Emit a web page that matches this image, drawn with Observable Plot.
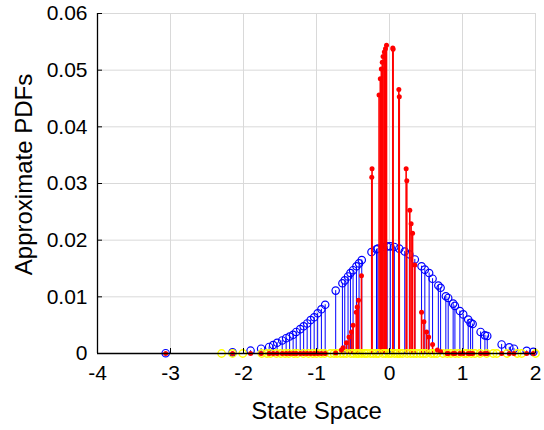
<!DOCTYPE html>
<html><head><meta charset="utf-8">
<script src="https://cdn.jsdelivr.net/npm/d3@7"></script>
<script src="https://cdn.jsdelivr.net/npm/@observablehq/plot@0.6"></script>
<style>body{margin:0;background:#fff} #chart svg{display:block}</style>
</head><body><div id="chart"></div>
<script>
const xTicks = [-4, -3, -2, -1, 0, 1, 2];
const yTicks = [0, 0.01, 0.02, 0.03, 0.04, 0.05, 0.06];
const xLabel = "State Space";
const yLabel = "Approximate PDFs";

// blue: open circles with stems
const blueX = [-3.066,-2.150,-1.903,-1.759,-1.649,-1.594,-1.539,-1.470,-1.416,-1.368,-1.320,-1.278,-1.223,-1.176,-1.128,-1.080,-1.032,-0.984,-0.933,-0.881,-0.737,-0.645,-0.613,-0.568,-0.535,-0.499,-0.453,-0.417,-0.380,-0.247,-0.178,-0.160,-0.092,-0.033,0.011,0.066,0.134,0.209,0.272,0.347,0.439,0.484,0.543,0.590,0.669,0.700,0.772,0.804,0.872,0.896,0.964,1.010,1.078,1.111,1.139,1.248,1.307,1.339,1.536,1.641,1.705,1.879,1.970];
const blueY = [0.00005,0.0002,0.0005,0.00085,0.00116,0.0015,0.0019,0.0023,0.0027,0.0030,0.0033,0.0038,0.0043,0.0048,0.0053,0.0059,0.0064,0.0071,0.0078,0.0086,0.0111,0.0124,0.0129,0.0136,0.0142,0.0147,0.0154,0.0159,0.0165,0.0179,0.0184,0.0185,0.0188,0.0189,0.0189,0.0188,0.0185,0.0180,0.0175,0.0166,0.0154,0.0148,0.0142,0.0132,0.0120,0.0116,0.0101,0.0098,0.0088,0.0084,0.0075,0.0069,0.0060,0.0054,0.0052,0.0038,0.0032,0.0031,0.0016,0.0011,0.00085,0.00046,0.00028];

// red: filled dots with stems
const redX = [-3.066,-2.150,-1.903,-1.759,-1.649,-1.594,-1.539,-1.470,-1.416,-1.368,-1.320,-1.278,-1.223,-1.176,-1.128,-1.080,-1.032,-0.984,-0.933,-0.881,-0.737,-0.658,-0.636,-0.590,-0.554,-0.521,-0.499,-0.455,-0.442,-0.425,-0.384,-0.243,-0.239,-0.143,-0.126,-0.112,-0.099,-0.088,-0.071,-0.055,-0.041,0.045,0.049,0.128,0.134,0.228,0.237,0.278,0.296,0.316,0.347,0.439,0.471,0.508,0.536,0.590,0.656,0.700,0.790,0.804,0.872,0.896,0.964,1.010,1.078,1.111,1.139,1.248,1.307,1.339,1.536,1.641,1.705,1.879,1.970];
const redY = [0,0,0,0,0,0,0,0,0,0,0,0,0,0,0,0,0,0,0,0,0.0001,0.0006,0.0010,0.0019,0.0029,0.0038,0.0050,0.0073,0.0082,0.0094,0.0137,0.0311,0.0326,0.0456,0.0485,0.0502,0.0514,0.0524,0.0532,0.0538,0.0544,0.0539,0.0537,0.0466,0.0453,0.0326,0.0305,0.0253,0.0229,0.0212,0.0156,0.0073,0.0056,0.0038,0.0029,0.0016,0.0006,0.0003,0,0,0,0,0,0,0,0,0,0,0,0,0,0,0,0,0];

// yellow: open circles at zero
const yellowX = [-2.30,-2.15,-2.01,-1.75,-1.68,-1.63,-1.55,-1.49,-1.43,-1.38,-1.31,-1.26,-1.18,-1.11,-1.05,-1.00,-0.94,-0.89,-0.81,-0.76,-0.72,-0.67,-0.63,-0.59,-0.53,-0.49,-0.45,-0.42,-0.38,-0.34,-0.31,-0.26,-0.22,-0.18,-0.15,-0.09,-0.05,-0.01,0.02,0.07,0.11,0.14,0.18,0.24,0.29,0.33,0.37,0.42,0.46,0.50,0.57,0.61,0.65,0.73,0.79,0.84,0.90,0.95,1.02,1.06,1.12,1.17,1.24,1.33,1.42,1.47,1.61,1.75,1.81,2.00];
const yellowY = yellowX.map(() => 0);

const blue = blueX.map((x, i) => ({x, y: blueY[i]}));
const red = redX.map((x, i) => ({x, y: redY[i]}));
const yellow = yellowX.map((x, i) => ({x, y: yellowY[i]}));

const W = 544, H = 430, mL = 97, mR = 9, mT = 13, mB = 77;

const chart = Plot.plot({
  width: W, height: H,
  marginLeft: mL, marginRight: mR, marginTop: mT, marginBottom: mB,
  style: {fontFamily: "'Liberation Sans', Arial, sans-serif", fontSize: "20px", color: "#000", background: "#fff", overflow: "visible"},
  x: {domain: [-4, 2]},
  y: {domain: [0, 0.06]},
  marks: [
    Plot.gridX(xTicks, {stroke: "#d9d9d9", strokeOpacity: 1}),
    Plot.gridY(yTicks, {stroke: "#d9d9d9", strokeOpacity: 1}),
    Plot.ruleX(blue, {x: "x", y1: 0, y2: "y", stroke: "#0000ff", strokeWidth: 1}),
    Plot.dot(blue, {x: "x", y: "y", r: 3.7, stroke: "#0000ff", strokeWidth: 1.2}),
    Plot.ruleX(red, {x: "x", y1: 0, y2: "y", stroke: "#ff0000", strokeWidth: 1.6}),
    Plot.dot(yellow, {x: "x", y: "y", r: 3.7, stroke: "#ffff00", strokeWidth: 1.4}),
    Plot.dot(red, {x: "x", y: "y", r: 2.5, fill: "#ff0000"}),
    Plot.ruleY([0], {stroke: "#000", strokeWidth: 1.3}),
    Plot.ruleX([-4], {stroke: "#000", strokeWidth: 1.3}),
    Plot.tickY(yTicks, {y: d => d, insetRight: W - mL - mR - 5, stroke: "#000"}),
    Plot.tickX(xTicks, {x: d => d, insetTop: H - mT - mB - 5, stroke: "#000"}),
    Plot.axisX(xTicks, {tickSize: 0, tickPadding: 12, tickFormat: d => String(d), fontSize: 21, label: null}),
    Plot.axisY(yTicks, {tickSize: 0, tickPadding: 10, tickFormat: d => String(d), fontSize: 21, label: null}),
    Plot.text([xLabel], {frameAnchor: "bottom", dy: 58, fontSize: 24, lineAnchor: "middle", textAnchor: "middle"}),
    Plot.text([yLabel], {frameAnchor: "left", rotate: -90, dx: -73, dy: -9, fontSize: 24, lineAnchor: "middle", textAnchor: "middle"})
  ]
});
document.getElementById("chart").append(chart);
</script>
</body></html>
